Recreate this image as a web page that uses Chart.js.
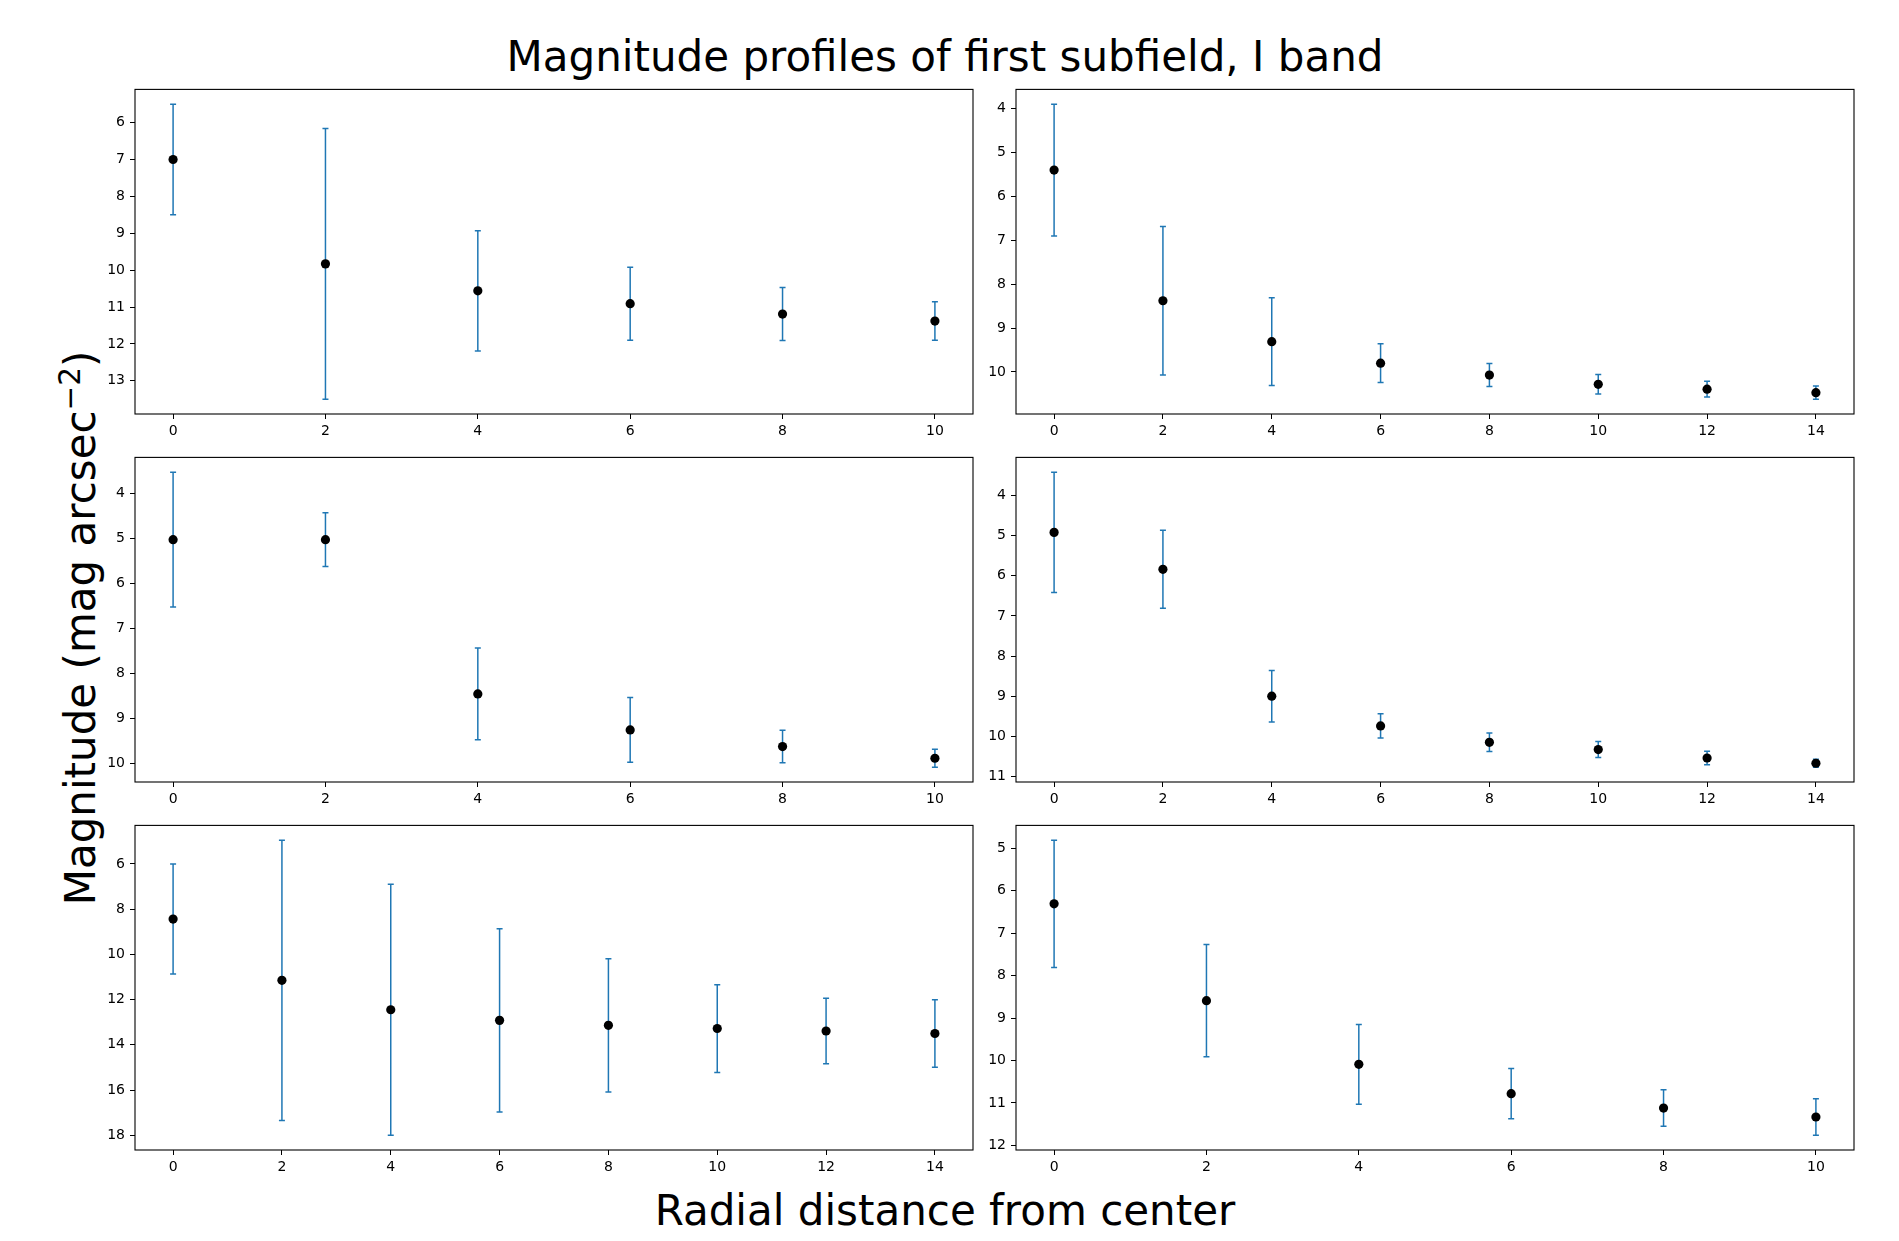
<!DOCTYPE html>
<html>
<head>
<meta charset="utf-8">
<script src="https://cdn.jsdelivr.net/npm/chart.js@4.4.1/dist/chart.umd.min.js"></script>
<style>
  body { margin: 0; background: #fff; font-family: "DejaVu Sans", sans-serif; }
  #fig { position: relative; width: 1899px; height: 1241px; overflow: hidden; background: #fff; }
  .panel { position: absolute; }
  .txt { position: absolute; font-size: 42px; line-height: 1; white-space: nowrap; color: #000; }
  .txt sup { font-size: 0.7em; vertical-align: baseline; position: relative; top: -0.5em; }
  #title { left: 945px; top: 36px; transform: translateX(-50%); }
  #xlabel { left: 945px; top: 1190px; transform: translateX(-50%); }
  #ylabel { left: 81px; top: 628px; transform: translate(-50%, -50%) rotate(-90deg); }
</style>
</head>
<body>
<div id="fig">
  <div class="txt" id="title">Magnitude profiles of first subfield, I band</div>
  <div class="txt" id="xlabel">Radial distance from center</div>
  <div class="txt" id="ylabel">Magnitude (mag arcsec<sup>−2</sup>)</div>
</div>
<script>
// radial bins
const radii6 = [0, 2, 4, 6, 8, 10];
const radii8 = [0, 2, 4, 6, 8, 10, 12, 14];

// magnitudes and errors (row by row, left then right)
const magA = [7.0, 9.83, 10.56, 10.91, 11.19, 11.38];
const errA = [1.5, 3.67, 1.63, 0.99, 0.72, 0.52];

const magB = [5.41, 8.38, 9.31, 9.80, 10.07, 10.28, 10.39, 10.47];
const errB = [1.5, 1.69, 1.0, 0.44, 0.26, 0.22, 0.18, 0.15];

const magC = [5.03, 5.03, 8.46, 9.26, 9.63, 9.89];
const errC = [1.5, 0.6, 1.02, 0.72, 0.36, 0.2];

const magD = [4.92, 5.84, 9.0, 9.74, 10.15, 10.33, 10.54, 10.67];
const errD = [1.5, 0.97, 0.64, 0.3, 0.23, 0.2, 0.17, 0.1];

const magE = [8.44, 11.15, 12.45, 12.92, 13.14, 13.28, 13.39, 13.5];
const errE = [2.43, 6.2, 5.55, 4.05, 2.95, 1.94, 1.45, 1.49];

const magF = [6.31, 8.59, 10.09, 10.78, 11.12, 11.33];
const errF = [1.5, 1.32, 0.94, 0.59, 0.43, 0.43];

// y tick step per panel
const ySteps = [1, 1, 1, 1, 2, 1];
const xStep = 2;

// axes boxes in page pixels
const colLeft = [135, 1016];
const rowTop = [86, 454, 822];
const axW = 838;
const axH = 328;
const Y_AXIS_W = 70, X_AXIS_H = 35, PAD_T = 10, PAD_R = 10;

const panels = [
  { r: radii6, m: magA, e: errA, row: 0, col: 0 },
  { r: radii8, m: magB, e: errB, row: 0, col: 1 },
  { r: radii6, m: magC, e: errC, row: 1, col: 0 },
  { r: radii8, m: magD, e: errD, row: 1, col: 1 },
  { r: radii8, m: magE, e: errE, row: 2, col: 0 },
  { r: radii6, m: magF, e: errF, row: 2, col: 1 }
];

// draw the full box around the axes like matplotlib spines
const frame = {
  id: 'frame',
  afterDraw(chart) {
    const { ctx, chartArea: a } = chart;
    ctx.save();
    ctx.strokeStyle = '#000';
    ctx.lineWidth = 1.1;
    ctx.strokeRect(a.left, a.top, a.right - a.left, a.bottom - a.top);
    ctx.restore();
  }
};

// keep only ticks on whole multiples of the step
function onStep(step) {
  return scale => {
    scale.ticks = scale.ticks.filter(t => Math.abs(t.value / step - Math.round(t.value / step)) < 1e-9);
  };
}

const tickFont = { family: 'DejaVu Sans', size: 14 };

panels.forEach((p, idx) => {
  // matplotlib-like autoscale, 5% margins
  const lo = Math.min(...p.m.map((v, i) => v - p.e[i]));
  const hi = Math.max(...p.m.map((v, i) => v + p.e[i]));
  const yPad = (hi - lo) * 0.05;
  const xLo = Math.min(...p.r), xHi = Math.max(...p.r);
  const xPad = (xHi - xLo) * 0.05;

  const errPts = [];
  p.r.forEach((x, i) => {
    errPts.push({ x: x, y: p.m[i] - p.e[i] });
    errPts.push({ x: x, y: p.m[i] + p.e[i] });
    errPts.push({ x: x, y: null });
  });
  const pts = p.r.map((x, i) => ({ x: x, y: p.m[i] }));

  const wrap = document.createElement('div');
  wrap.className = 'panel';
  wrap.style.left = (colLeft[p.col] - Y_AXIS_W) + 'px';
  wrap.style.top = (rowTop[p.row] - PAD_T) + 'px';
  const cv = document.createElement('canvas');
  cv.width = axW + Y_AXIS_W + PAD_R;
  cv.height = axH + PAD_T + X_AXIS_H;
  wrap.appendChild(cv);
  document.getElementById('fig').appendChild(wrap);

  new Chart(cv.getContext('2d'), {
    type: 'scatter',
    data: {
      datasets: [
        {
          data: pts,
          pointRadius: 4.6,
          pointBackgroundColor: '#000',
          pointBorderWidth: 0,
          order: 0
        },
        {
          data: errPts,
          showLine: true,
          spanGaps: false,
          borderColor: '#1f77b4',
          borderWidth: 1.5,
          pointStyle: 'line',
          pointRadius: 3,
          pointBorderWidth: 1.5,
          pointBorderColor: '#1f77b4',
          order: 1
        }
      ]
    },
    options: {
      responsive: false,
      animation: false,
      events: [],
      layout: { padding: { top: PAD_T, right: PAD_R, left: 0, bottom: 0 } },
      plugins: { legend: { display: false }, tooltip: { enabled: false } },
      scales: {
        x: {
          type: 'linear',
          min: xLo - xPad,
          max: xHi + xPad,
          afterBuildTicks: onStep(xStep),
          afterFit: s => { s.height = X_AXIS_H; },
          grid: { drawOnChartArea: false, drawTicks: true, tickLength: 5, color: '#000', lineWidth: 1 },
          border: { display: false },
          ticks: { stepSize: xStep, includeBounds: false, font: tickFont, color: '#000', padding: 4, maxRotation: 0, autoSkip: false }
        },
        y: {
          type: 'linear',
          reverse: true,
          min: lo - yPad,
          max: hi + yPad,
          afterBuildTicks: onStep(ySteps[idx]),
          afterFit: s => { s.width = Y_AXIS_W; },
          grid: { drawOnChartArea: false, drawTicks: true, tickLength: 5, color: '#000', lineWidth: 1 },
          border: { display: false },
          ticks: { stepSize: ySteps[idx], includeBounds: false, font: tickFont, color: '#000', padding: 5, autoSkip: false }
        }
      }
    },
    plugins: [frame]
  });
});
</script>
</body>
</html>
